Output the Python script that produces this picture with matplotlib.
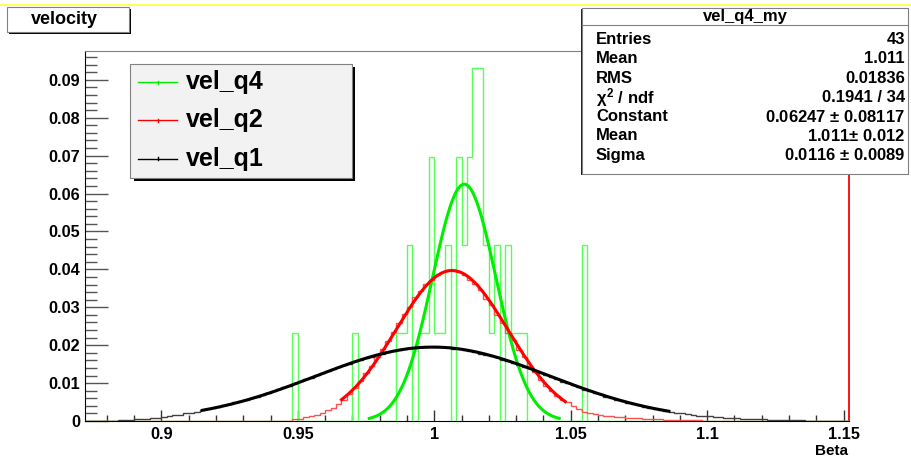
import numpy as np
import matplotlib.pyplot as plt
from matplotlib.patches import Rectangle
from matplotlib.lines import Line2D

plt.rcParams['font.family'] = ['Liberation Sans', 'DejaVu Sans']
plt.rcParams['font.weight'] = 'bold'
plt.rcParams['mathtext.fontset'] = 'custom'
plt.rcParams['mathtext.rm'] = 'Liberation Sans:bold'
plt.rcParams['mathtext.it'] = 'Liberation Sans:bold'

# Binning ---------------------------------------------------------------------
x_lo, x_hi = 0.872, 1.152
n_bins = 140
edges = np.linspace(x_lo, x_hi, n_bins + 1)

# vel_q4 : counts per bin (43 entries), first listed bin is bin 38
q4_entries = 43
q4_first = 38
q4_counts = [1, 0, 0, 0, 0, 0, 0, 0, 0, 0,
             0, 1, 0, 0, 0, 0, 0, 0, 0, 1,
             1, 2, 0, 1, 1, 3, 1, 1, 2, 0,
             3, 2, 3, 4, 4, 2, 1, 2, 0, 2,
             1, 1, 1, 0, 0, 0, 0, 0, 0, 0,
             0, 0, 0, 2]

# vel_q2 : normalised bin contents (x1e-4), first listed bin is bin 37
q2_first = 37
q2_vals = [1, 5, 6, 10, 12, 17, 20, 28, 35, 44,
           55, 70, 88, 106, 126, 146, 168, 190, 212, 236,
           258, 282, 302, 326, 342, 362, 372, 386, 392, 398,
           396, 393, 386, 373, 361, 345, 323, 305, 280, 259,
           233, 213, 187, 168, 145, 128, 107, 93, 78, 66,
           56, 50, 40, 32, 25, 22, 19, 16, 14, 12,
           11, 10, 9, 8, 7, 6, 5, 5, 4, 3,
           3, 3, 2, 2, 2, 2, 1, 1, 1, 1,
           1, 1, 1, 1]

# vel_q1 : normalised bin contents (x1e-4), all 140 bins
q1_vals = [0, 0, 0, 1, 1, 1, 2, 2, 3, 4,
           5, 6, 7, 9, 11, 13, 15, 17, 20, 22,
           25, 28, 31, 35, 37, 41, 44, 49, 52, 56,
           61, 64, 69, 74, 78, 84, 89, 93, 99, 105,
           110, 114, 121, 127, 131, 137, 143, 147, 151, 157,
           162, 167, 170, 173, 178, 181, 185, 187, 190, 193,
           192, 195, 196, 194, 195, 194, 194, 190, 189, 187,
           184, 183, 178, 175, 171, 168, 161, 158, 152, 148,
           142, 139, 132, 126, 122, 115, 111, 104, 100, 94,
           89, 83, 79, 74, 70, 64, 60, 55, 52, 48,
           44, 41, 37, 35, 32, 29, 26, 24, 21, 20,
           18, 16, 14, 13, 12, 11, 10, 9, 8, 7,
           6, 5, 5, 4, 4, 3, 3, 3, 2, 2,
           2, 2, 1, 1, 1, 1, 1, 1, 1, 1]

# Gaussian fits: constant, mean, sigma, fit range
fit_q4 = (0.06247, 1.011, 0.0116, 0.9762, 1.0458)
fit_q2 = (0.0397, 1.0065, 0.0205, 0.966, 1.048)
fit_q1 = (0.0195, 0.9995, 0.043, 0.915, 1.086)

x_ticks = [0.9, 0.95, 1.0, 1.05, 1.1, 1.15]
x_tick_labels = ['0.9', '0.95', '1', '1.05', '1.1', '1.15']
y_ticks = [0, 0.01, 0.02, 0.03, 0.04, 0.05, 0.06, 0.07, 0.08, 0.09]
y_tick_labels = ['0', '0.01', '0.02', '0.03', '0.04', '0.05', '0.06', '0.07', '0.08', '0.09']
y_max = 0.0976

stats_title = 'vel_q4_my'
stats_rows = [('Entries', '43'), ('Mean', '1.011'), ('RMS', '0.01836'),
              (r'$\chi^{2}$ / ndf', '0.1941 / 34'),
              ('Constant', r'0.06247 $\pm$ 0.08117'),
              ('Mean', r'1.011$\pm$ 0.012'),
              ('Sigma', r'0.0116 $\pm$ 0.0089')]

legend_names = ['vel_q4', 'vel_q2', 'vel_q1']


def full(first, vals, scale):
    h = np.zeros(n_bins)
    h[first:first + len(vals)] = np.array(vals, dtype=float) * scale
    return h


h_q4 = full(q4_first, q4_counts, 1.0 / q4_entries)
h_q2 = full(q2_first, q2_vals, 1e-4)
h_q1 = full(0, q1_vals, 1e-4)

# Figure ----------------------------------------------------------------------
W, H = 912, 459
fig = plt.figure(figsize=(W / 100, H / 100), dpi=100)


def fx(px):
    return px / W


def fy(py):
    return 1 - py / H


ax = fig.add_axes([fx(85), fy(421), fx(849) - fx(85), fy(51) - fy(421)])
ax.set_xlim(x_lo, x_hi)
ax.set_ylim(0, y_max)

col_g_hist, col_g_fit = '#55ff55', '#00ee00'
col_r_hist, col_r_fit = '#ff5050', '#ff0000'
col_k_hist, col_k_fit = '#404040', '#000000'

ax.stairs(h_q4, edges, color=col_g_hist, lw=1.0, baseline=0, zorder=3)
ax.stairs(h_q2, edges, color=col_r_hist, lw=1.0, baseline=0, zorder=3)
ax.stairs(h_q1, edges, color=col_k_hist, lw=1.0, baseline=0, zorder=3)

for (a, mu, s, lo, hi), c in [(fit_q4, col_g_fit), (fit_q2, col_r_fit), (fit_q1, col_k_fit)]:
    xx = np.linspace(lo, hi, 300)
    ax.plot(xx, a * np.exp(-0.5 * ((xx - mu) / s) ** 2), color=c, lw=2.2, zorder=4)

ax.set_xticks(x_ticks)
ax.set_xticklabels(x_tick_labels)
ax.set_xticks(np.arange(0.88, 1.151, 0.01), minor=True)
ax.set_yticks(y_ticks)
ax.set_yticklabels(y_tick_labels)
ax.set_yticks(np.arange(0, 0.0975, 0.002), minor=True)

ax.tick_params(axis='x', which='major', direction='in', length=8, width=1, color='#333333',
               labelsize=11.7, pad=4.5)
ax.tick_params(axis='x', which='minor', direction='in', length=4, width=1, color='#333333')
ax.tick_params(axis='y', which='major', direction='in', length=16.5, width=1, color='#555555',
               labelsize=11.7, pad=3.5)
ax.tick_params(axis='y', which='minor', direction='in', length=8.5, width=1, color='#555555')
for lab in ax.get_xticklabels() + ax.get_yticklabels():
    lab.set_fontweight('bold')

ax.spines['left'].set_color('#000000')
ax.spines['bottom'].set_color('#000000')
ax.spines['top'].set_color('#808080')
ax.spines['right'].set_color('#ff0000')
ax.spines['right'].set_linewidth(1.3)

fig.text(fx(848), fy(451), 'Beta', ha='right', va='center', fontsize=11, fontweight='bold')

# Top yellow line
fig.add_artist(Line2D([0, 1], [fy(5), fy(5)], color='#ffff40', lw=1.2))

# Title box -------------------------------------------------------------------
fig.add_artist(Rectangle((fx(9), fy(34)), fx(131) - fx(9), fy(9) - fy(34), facecolor='black',
                         edgecolor='none'))
fig.add_artist(Rectangle((fx(7), fy(32)), fx(129) - fx(7), fy(7) - fy(32), facecolor='white',
                         edgecolor='#808080', lw=0.8))
fig.text(fx(64), fy(19.5), 'velocity', ha='center', va='center', fontsize=13, fontweight='bold')

# Legend ----------------------------------------------------------------------
fig.add_artist(Rectangle((fx(134), fy(181)), fx(355) - fx(134), fy(67) - fy(181),
                         facecolor='black', edgecolor='none', zorder=5))
fig.add_artist(Rectangle((fx(130.5), fy(177.5)), fx(352.5) - fx(130.5), fy(63.5) - fy(177.5),
                         facecolor='#f2f2f2', edgecolor='#808080', lw=0.8, zorder=6))
for name, c, ly in zip(legend_names, [col_g_fit, col_r_fit, col_k_fit], [82.3, 120.3, 158.7]):
    fig.add_artist(Line2D([fx(138), fx(177)], [fy(ly), fy(ly)], color=c, lw=1, zorder=7))
    fig.add_artist(Line2D([fx(158), fx(158)], [fy(ly - 1.5), fy(ly + 1.5)], color=c, lw=1, zorder=7))
    fig.text(fx(186), fy(ly), name, ha='left', va='center', fontsize=18, fontweight='bold', zorder=8)

# Stats box -------------------------------------------------------------------
fig.add_artist(Rectangle((fx(581), fy(175)), fx(909) - fx(581), fy(9) - fy(175),
                         facecolor='#202020', edgecolor='none', zorder=5))
fig.add_artist(Rectangle((fx(582), fy(173.5)), fx(908) - fx(582), fy(8) - fy(173.5),
                         facecolor='white', edgecolor='#808080', lw=0.8, zorder=6))
fig.add_artist(Line2D([fx(582), fx(908)], [fy(25), fy(25)], color='#808080', lw=0.8, zorder=7))
fig.text(fx(745), fy(16.5), stats_title, ha='center', va='center', fontsize=12, fontweight='bold',
         zorder=8)
for i, (lab, val) in enumerate(stats_rows):
    yy = fy(39.5 + 19.3 * i)
    fig.text(fx(596), yy, lab, ha='left', va='center', fontsize=12, fontweight='bold', zorder=8)
    fig.text(fx(905), yy, val, ha='right', va='center', fontsize=12, fontweight='bold', zorder=8)

fig.savefig('out.png', dpi=100)
